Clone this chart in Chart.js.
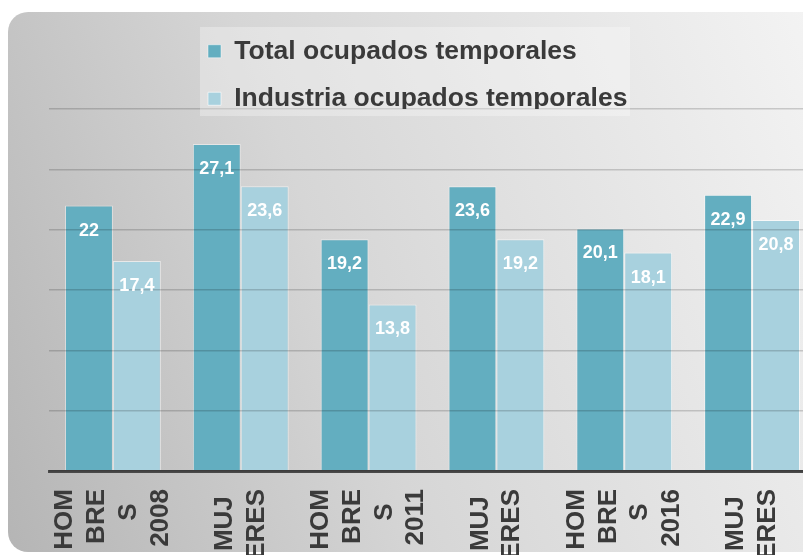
<!DOCTYPE html>
<html>
<head>
<meta charset="utf-8">
<script src="https://cdn.jsdelivr.net/npm/chart.js@4.4.1/dist/chart.umd.min.js"></script>
<style>
  html, body { margin: 0; padding: 0; background: #fff; overflow: hidden; }
  #wrap { position: relative; width: 803px; height: 555px; overflow: hidden; }
  #panel {
    position: absolute; left: 8px; top: 12px; width: 860px; height: 540px;
    border-radius: 20px;
    background: linear-gradient(70deg, #b5b5b5 0%, #d6d6d6 40%, #f6f6f6 100%);
  }
  #chart { position: absolute; left: 0; top: 0; }
</style>
</head>
<body>
<div id="wrap">
  <div id="panel"></div>
  <canvas id="chart" width="816" height="555"></canvas>
</div>
<script>
const seriesNames = ['Total ocupados temporales', 'Industria ocupados temporales'];
const xLabels = [
  ['HOM', 'BRE', 'S', '2008'], ['MUJ', 'ERES'],
  ['HOM', 'BRE', 'S', '2011'], ['MUJ', 'ERES'],
  ['HOM', 'BRE', 'S', '2016'], ['MUJ', 'ERES']
];
const totalValues = [22, 27.1, 19.2, 23.6, 20.1, 22.9];
const industriaValues = [17.4, 23.6, 13.8, 19.2, 18.1, 20.8];

const FONT = '"Liberation Sans", Arial, sans-serif';
Chart.defaults.font.family = FONT;

// centre the short lines of a rotated label and give every label 4 rows
const measure = document.createElement('canvas').getContext('2d');
measure.font = 'bold 26px ' + FONT;
function tickLines(lines) {
  const widths = lines.map(l => measure.measureText(l).width);
  const maxW = Math.max(...widths);
  const sp = measure.measureText(' ').width;
  const out = lines.map((l, i) => l + ' '.repeat(Math.floor((maxW - widths[i]) / 2 / sp)));
  while (out.length < 4) {
    out.unshift('');
    if (out.length < 4) out.push('');
  }
  return out;
}

const legendPanel = {
  id: 'legendPanel',
  beforeLayout(chart) {
    const lg = chart.legend;
    lg._layers = () => [{
      z: 2,
      draw() {
        const c = chart.ctx;
        c.save();
        c.fillStyle = 'rgba(255,255,255,0.3)';
        c.fillRect(lg.left + 13, lg.top + 10, 430, 89);
        c.restore();
        lg.draw();
      }
    }];
  },
  afterLayout(chart) {
    chart.legend.left = 187;
    chart.legend.top = 17;
  }
};

const valueLabels = {
  id: 'valueLabels',
  afterDraw(chart) {
    const ctx = chart.ctx;
    ctx.save();
    ctx.font = 'bold 18px ' + FONT;
    ctx.fillStyle = '#fff';
    ctx.textAlign = 'center';
    ctx.textBaseline = 'middle';
    chart.data.datasets.forEach((ds, i) => {
      chart.getDatasetMeta(i).data.forEach((bar, j) => {
        ctx.fillText(String(ds.data[j]).replace('.', ','), bar.x, bar.y + 25);
      });
    });
    ctx.restore();
  }
};

new Chart(document.getElementById('chart'), {
  type: 'bar',
  data: {
    labels: xLabels,
    datasets: [
      {
        label: seriesNames[0],
        data: totalValues,
        backgroundColor: '#63aec0',
        borderColor: 'rgba(255,255,255,0.45)',
        borderWidth: 1,
        categoryPercentage: 0.75,
        barPercentage: 1
      },
      {
        label: seriesNames[1],
        data: industriaValues,
        backgroundColor: '#a8d1de',
        borderColor: 'rgba(255,255,255,0.6)',
        borderWidth: 1,
        categoryPercentage: 0.75,
        barPercentage: 1
      }
    ]
  },
  options: {
    responsive: false,
    animation: false,
    layout: { padding: { top: 4, left: 49, right: 0, bottom: 0 } },
    plugins: {
      tooltip: { enabled: false },
      legend: {
        position: 'top',
        align: 'start',
        labels: {
          boxWidth: 13,
          boxHeight: 13,
          padding: 21,
          color: '#3a3a3a',
          font: { size: 26.5, weight: 'bold' }
        }
      }
    },
    scales: {
      x: {
        grid: { display: false, drawTicks: false },
        border: { display: true, color: '#4a4a4a', width: 3, z: 1 },
        ticks: {
          autoSkip: false,
          minRotation: 90,
          maxRotation: 90,
          padding: 18,
          labelOffset: -47.6,
          color: '#3a3a3a',
          font: { size: 26, weight: 'bold', lineHeight: 1.22 },
          callback: function (value) {
            return tickLines(this.getLabelForValue(value));
          }
        },
        afterFit(scale) {
          scale.height = 84;
          scale.paddingLeft = 0;
          scale.paddingRight = 0;
        }
      },
      y: {
        min: 0,
        max: 30,
        ticks: { display: false, stepSize: 5 },
        grid: { color: 'rgba(0,0,0,0.17)', lineWidth: 1.5, drawTicks: false, z: 1 },
        border: { display: false }
      }
    }
  },
  plugins: [legendPanel, valueLabels]
});
</script>
</body>
</html>
